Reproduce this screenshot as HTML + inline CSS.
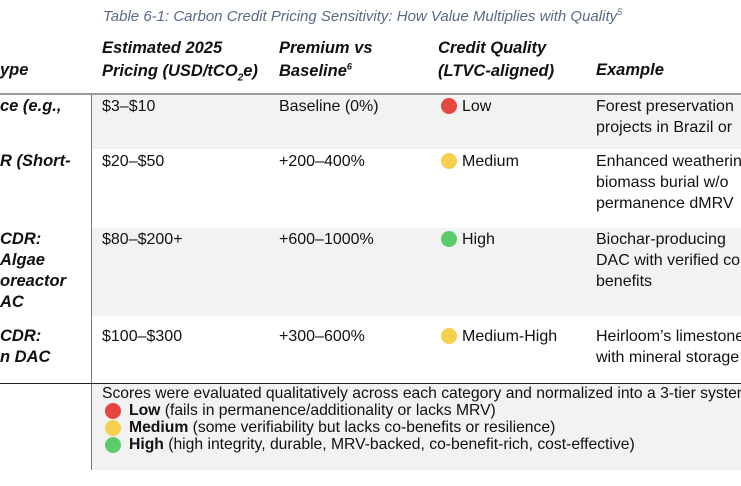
<!DOCTYPE html>
<html><head><meta charset="utf-8"><style>
body{margin:0;width:741px;height:486px;overflow:hidden;background:#fff;position:relative;font-family:"Liberation Sans",sans-serif;color:#111;}
.a{position:absolute;white-space:nowrap;line-height:21px;font-size:16px;}
.h{font-weight:bold;font-style:italic;font-size:16.5px;}
.bg{position:absolute;left:92px;right:0;background:#f2f2f2;}
.dot{position:absolute;width:16px;height:16px;border-radius:50%;}
.f{position:absolute;white-space:nowrap;font-size:15.7px;line-height:17px;left:102px;}
</style></head><body>
<div class="a" style="left:103px;top:2px;font-size:15px;font-style:italic;color:#5a6a85;">Table 6-1: Carbon Credit Pricing Sensitivity: How Value Multiplies with Quality<sup style="font-size:9px">5</sup></div>

<div class="a h" style="left:0;top:60px">ype</div>
<div class="a h" style="left:102px;top:37px;line-height:23px">Estimated 2025<br>Pricing (USD/tCO<sub style="font-size:10px;line-height:0">2</sub>e)</div>
<div class="a h" style="left:279px;top:37px;line-height:23px">Premium vs<br>Baseline<sup style="font-size:9px;line-height:0">6</sup></div>
<div class="a h" style="left:438px;top:37px;line-height:23px">Credit Quality<br>(LTVC-aligned)</div>
<div class="a h" style="left:596px;top:60px">Example</div>

<div style="position:absolute;left:0;right:0;top:93px;height:2px;background:#9a9a9a"></div>
<div class="bg" style="top:95px;height:54px"></div>
<div class="bg" style="top:228px;height:88px"></div>
<div class="bg" style="top:384px;height:86px"></div>
<div style="position:absolute;left:91px;top:95px;width:1px;height:375px;background:#777"></div>
<div style="position:absolute;left:0;right:0;top:383px;height:1px;background:#222"></div>

<div class="a h" style="left:0;top:96px">ce (e.g.,</div>
<div class="a" style="left:102px;top:96px">$3–$10</div>
<div class="a" style="left:279px;top:96px">Baseline (0%)</div>
<div class="dot" style="left:441px;top:98px;background:#e54640"></div>
<div class="a" style="left:462px;top:96px">Low</div>
<div class="a" style="left:596px;top:96px">Forest preservation<br>projects in Brazil or</div>

<div class="a h" style="left:0;top:151px">R (Short-</div>
<div class="a" style="left:102px;top:151px">$20–$50</div>
<div class="a" style="left:279px;top:151px">+200–400%</div>
<div class="dot" style="left:441px;top:153px;background:#f5d04f"></div>
<div class="a" style="left:462px;top:151px">Medium</div>
<div class="a" style="left:596px;top:151px">Enhanced weathering<br>biomass burial w/o<br>permanence dMRV</div>

<div class="a h" style="left:0;top:229px">CDR:<br>Algae<br>oreactor<br>AC</div>
<div class="a" style="left:102px;top:229px">$80–$200+</div>
<div class="a" style="left:279px;top:229px">+600–1000%</div>
<div class="dot" style="left:441px;top:231px;background:#5ccb6a"></div>
<div class="a" style="left:462px;top:229px">High</div>
<div class="a" style="left:596px;top:229px">Biochar-producing<br>DAC with verified co<br>benefits</div>

<div class="a h" style="left:0;top:326px">CDR:<br>n DAC</div>
<div class="a" style="left:102px;top:326px">$100–$300</div>
<div class="a" style="left:279px;top:326px">+300–600%</div>
<div class="dot" style="left:441px;top:328px;background:#f5d04f"></div>
<div class="a" style="left:462px;top:326px">Medium-High</div>
<div class="a" style="left:596px;top:326px">Heirloom’s limestone<br>with mineral storage</div>

<div class="f" style="top:385px">Scores were evaluated qualitatively across each category and normalized into a 3-tier system</div>
<div class="dot" style="left:105px;top:403px;background:#e54640"></div>
<div class="f" style="left:129px;top:402px"><b>Low</b> (fails in permanence/additionality or lacks MRV)</div>
<div class="dot" style="left:105px;top:420px;background:#f5d04f"></div>
<div class="f" style="left:129px;top:419px"><b>Medium</b> (some verifiability but lacks co-benefits or resilience)</div>
<div class="dot" style="left:105px;top:437px;background:#5ccb6a"></div>
<div class="f" style="left:129px;top:436px"><b>High</b> (high integrity, durable, MRV-backed, co-benefit-rich, cost-effective)</div>
</body></html>
